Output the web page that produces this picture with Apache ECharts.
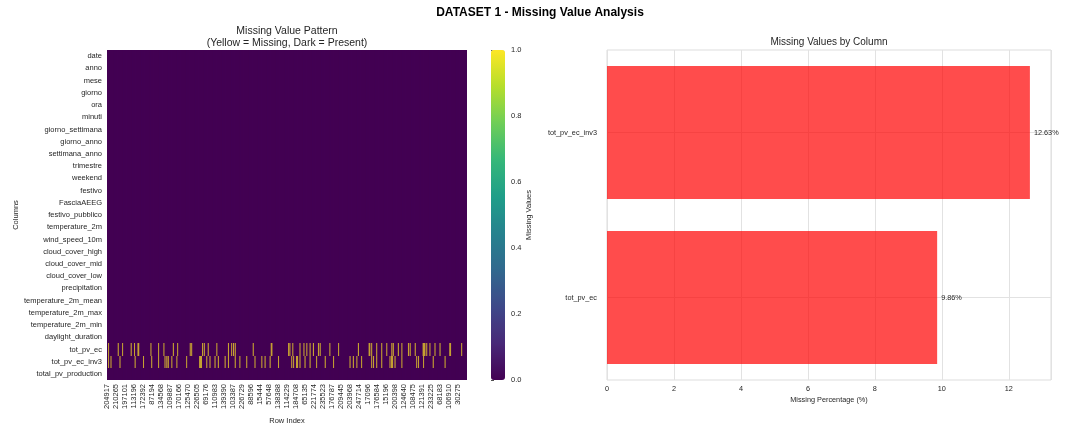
<!DOCTYPE html>
<html><head><meta charset="utf-8">
<script src="https://cdn.jsdelivr.net/npm/echarts@6/dist/echarts.min.js"></script>
<style>html,body{margin:0;padding:0;background:#fff}#c{width:1069px;height:423px}</style>
</head><body><div id="c"></div>
<script>
// ---- data ----
const columnNames = ['date','anno','mese','giorno','ora','minuti','giorno_settimana','giorno_anno','settimana_anno','trimestre','weekend','festivo','FasciaAEEG','festivo_pubblico','temperature_2m','wind_speed_10m','cloud_cover_high','cloud_cover_mid','cloud_cover_low','precipitation','temperature_2m_mean','temperature_2m_max','temperature_2m_min','daylight_duration','tot_pv_ec','tot_pv_ec_inv3','total_pv_production'];
const rowTickLabels = ['204917','210265','197101','113196','172392','87194','134568','109887','170166','125470','226505','69176','110983','139390','103387','226729','88596','15444','57648','138388','114229','184708','65135','221774','235523','176787','209445','203968','247714','17096','176584','15196','200398','124640','108475','121391','233225','68183','106910','30275'];
const sampleCount = 1000;
const tickStep = 25;
// sample positions (0..999) where the value is missing
const missingTotPvEc = [3,4,5,30,31,32,42,43,44,66,67,68,75,76,77,85,86,87,88,89,121,122,123,142,143,144,157,158,159,183,184,185,195,196,197,230,231,232,234,235,236,264,265,266,269,270,271,280,281,282,304,305,306,336,337,338,345,346,347,350,351,352,355,356,357,405,406,407,455,456,457,458,459,503,504,505,507,508,509,515,516,517,535,536,537,546,547,548,554,555,556,563,564,565,572,573,574,586,587,588,591,592,593,618,619,620,642,643,644,697,698,699,727,728,729,730,731,734,735,736,748,749,750,762,763,764,776,777,778,790,791,792,794,795,796,808,809,810,818,819,820,836,837,838,841,842,843,855,856,857,877,878,879,880,881,882,883,884,887,888,889,896,897,898,910,911,912,924,925,926,951,952,953,954,955,984,985,986];
const missingTotPvEcInv3 = [3,4,5,10,11,12,35,36,37,77,78,79,100,101,102,123,124,125,142,143,144,160,161,162,165,166,167,169,170,171,179,180,181,193,194,195,220,221,222,256,257,258,259,260,261,262,263,276,277,278,285,286,287,299,300,301,308,309,310,327,328,329,336,337,338,355,356,357,368,369,370,387,388,389,410,411,412,429,430,431,438,439,440,452,453,454,475,476,477,512,513,514,517,518,519,525,526,527,528,529,530,535,536,537,549,550,551,563,564,565,581,582,583,605,606,607,628,629,630,674,675,676,683,684,685,693,694,695,706,707,708,734,735,736,739,740,741,748,749,750,762,763,764,785,786,787,789,790,791,792,793,794,799,800,801,818,819,820,859,860,861,864,865,866,878,879,880,905,906,907,938,939,940];
const barCategories = ['tot_pv_ec','tot_pv_ec_inv3'];
const barValues = [9.86, 12.63];

// ---- build ----
const missingByColumn = { tot_pv_ec: missingTotPvEc, tot_pv_ec_inv3: missingTotPvEcInv3 };
const xCats = [];
for (let i = 0; i < sampleCount; i++) xCats.push(String(i));
const heatData = [];
columnNames.forEach((name, r) => {
  const s = new Set(missingByColumn[name] || []);
  for (let i = 0; i < sampleCount; i++) heatData.push([i, r, s.has(i) ? 1 : 0]);
});
const viridis = ['#440154','#482878','#3e4989','#31688e','#26828e','#1f9e89','#35b779','#6ece58','#b5de2b','#fde725'];
const FONT = 'Liberation Sans, Arial, sans-serif';
const TC = '#262626';

const chart = echarts.init(document.getElementById('c'));
chart.setOption({
  animation: false,
  backgroundColor: '#fff',
  textStyle: { fontFamily: FONT },
  title: [
    { text: 'DATASET 1 - Missing Value Analysis', left: 540, top: 7, textAlign: 'center', padding: 0,
      textStyle: { fontSize: 12, fontWeight: 'bold', color: '#000', fontFamily: FONT } },
    { text: 'Missing Value Pattern\n(Yellow = Missing, Dark = Present)', left: 287, top: 25, textAlign: 'center', padding: 0,
      textStyle: { fontSize: 10.5, lineHeight: 12, fontWeight: 'normal', color: TC, fontFamily: FONT } },
    { text: 'Missing Values by Column', left: 829, top: 37, textAlign: 'center', padding: 0,
      textStyle: { fontSize: 10, fontWeight: 'normal', color: TC, fontFamily: FONT } }
  ],
  grid: [
    { left: 107, top: 50, width: 360, height: 330, show: true, backgroundColor: '#440154', borderWidth: 0,
      containLabel: false, outerBoundsMode: 'none' },
    { left: 491, top: 50, width: 14, height: 330, containLabel: false, outerBoundsMode: 'none' },
    { left: 607, top: 50, width: 444, height: 330, show: true, backgroundColor: '#fff', borderColor: '#dddddd', borderWidth: 1,
      containLabel: false, outerBoundsMode: 'none' }
  ],
  xAxis: [
    { gridIndex: 0, type: 'category', data: xCats,
      axisLine: { show: false }, axisTick: { show: false }, splitLine: { show: false },
      axisLabel: { interval: tickStep - 1, rotate: 90, fontSize: 7.5, color: TC, margin: 4, hideOverlap: false,
        formatter: (v, i) => (i % tickStep === 0 ? rowTickLabels[i / tickStep] : '') },
      name: 'Row Index', nameLocation: 'middle', nameGap: 35, nameTextStyle: { fontSize: 7.5, color: TC } },
    { gridIndex: 1, type: 'value', show: false, min: 0, max: 1 },
    { gridIndex: 2, type: 'value', min: 0, max: 13.26, interval: 2,
      axisLine: { show: false }, axisTick: { show: false },
      splitLine: { show: true, lineStyle: { color: '#e2e2e2', width: 1 } },
      axisLabel: { fontSize: 7.3, color: TC, margin: 5, showMaxLabel: false },
      name: 'Missing Percentage (%)', nameLocation: 'middle', nameGap: 14, nameTextStyle: { fontSize: 7.3, color: TC } }
  ],
  yAxis: [
    { gridIndex: 0, type: 'category', inverse: true, data: columnNames,
      axisLine: { show: false }, axisTick: { show: false }, splitLine: { show: false },
      axisLabel: { fontSize: 7.5, color: TC, margin: 5, interval: 0 },
      name: 'Columns', nameLocation: 'middle', nameGap: 79, nameRotate: 90, nameTextStyle: { fontSize: 7.5, color: TC } },
    { gridIndex: 1, type: 'value', position: 'right', min: 0, max: 1, interval: 0.2,
      axisLine: { show: false }, axisTick: { show: true, length: 3, lineStyle: { color: TC, width: 0.8 } },
      splitLine: { show: false },
      axisLabel: { formatter: v => v.toFixed(1), fontSize: 7.5, color: TC, margin: 6 },
      name: 'Missing Values', nameLocation: 'middle', nameRotate: 90, nameGap: 19, nameTextStyle: { fontSize: 7.5, color: TC } },
    { gridIndex: 2, type: 'category', data: barCategories,
      axisLine: { show: false }, axisTick: { show: false },
      splitLine: { show: true, alignWithLabel: true, lineStyle: { color: '#e2e2e2', width: 1 } },
      axisLabel: { fontSize: 7.3, color: TC, margin: 10 } }
  ],
  visualMap: {
    type: 'continuous', min: 0, max: 1, dimension: 2, seriesIndex: 0, calculable: false, hoverLink: false,
    left: 491, top: 50, itemWidth: 14, itemHeight: 330, padding: 0, text: null, showLabel: false,
    indicatorSize: 0, indicatorStyle: { opacity: 0 },
    inRange: { color: viridis }
  },
  series: [
    { type: 'custom', xAxisIndex: 0, yAxisIndex: 0, data: heatData, encode: { x: 0, y: 1 },
      progressive: 0, silent: true,
      renderItem: function (params, api) {
        const c = api.coord([api.value(0), api.value(1)]);
        const s = api.size([1, 1]);
        const y0 = Math.round(c[1] - s[1] / 2);
        const y1 = Math.round(c[1] + s[1] / 2);
        return { type: 'rect', shape: { x: c[0] - s[0] / 2, y: y0, width: s[0], height: y1 - y0 },
                 style: { fill: api.visual('color') } };
      } },
    { type: 'bar', xAxisIndex: 2, yAxisIndex: 2, data: barValues, barWidth: 133, silent: true,
      itemStyle: { color: 'rgba(255,0,0,0.7)' },
      label: { show: true, position: 'right', distance: 4, fontSize: 7.3, color: TC,
        formatter: p => p.value.toFixed(2) + '%' } }
  ]
});
</script>
</body></html>
